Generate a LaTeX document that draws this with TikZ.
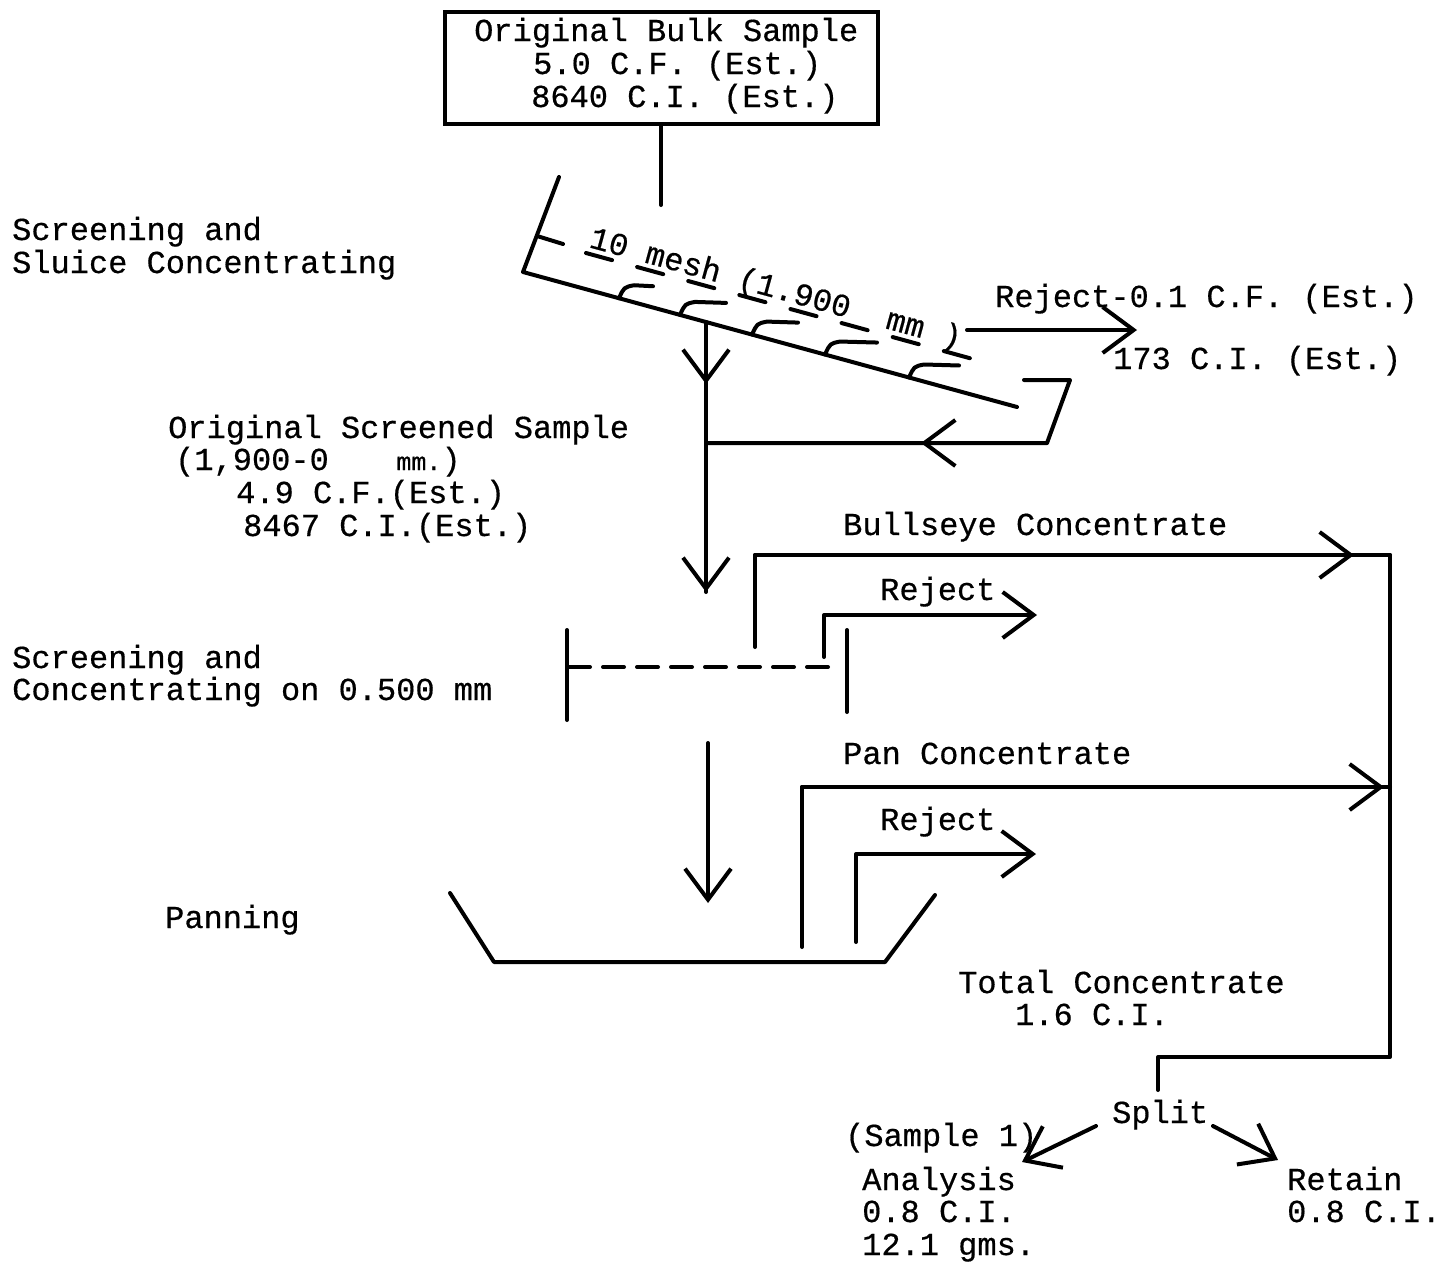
\documentclass[tikz,border=0pt]{standalone}
\usepackage{fontspec}
\setmainfont{Liberation Mono}[FakeBold=0.5]
\usetikzlibrary{arrows.meta}
\begin{document}
\begin{tikzpicture}[x=1pt,y=-1pt,
  ln/.style={line width=4pt,line cap=round,line join=round},
  arr/.style={ln,-{Straight Barb[length=31pt,width=46pt]}},
  txt/.style={inner sep=0pt,anchor=base west,font=\fontsize{32}{33}\selectfont}]
\useasboundingbox (0,0) rectangle (1443,1261);
\fill[white] (0,0) rectangle (1443,1261);

% ---- original bulk sample
\node[draw,line width=4pt,minimum width=433pt,minimum height=112pt,inner sep=0pt] (bulk) at (661,68) {};
\node[txt] (bulk1) at (474,41) {Original Bulk Sample};
\node[txt] (bulk2) at (533,74) {5.0 C.F. (Est.)};
\node[txt] (bulk3) at (531,107) {8640 C.I. (Est.)};
\coordinate (top) at (661,205);
\draw[ln] (bulk.south) -- (top);

% ---- first screen (sluice)
\coordinate (s1a) at (559,177);
\coordinate (s1b) at (523,272);
\coordinate (s1c) at (1017,407);
\draw[ln] (s1a) -- (s1b) -- (s1c);
\draw[ln] (537,236) -- (563,244);
\node[txt,rotate=-15.3] (mesh) at (588,247) {10 mesh (1.900\ \ mm )};
\draw[ln,dash pattern=on 27pt off 26pt] (586,253) -- (991,364);
\foreach \h/\w in {619/34,680/46,752/46,825/52,909/50} {
  \pgfmathsetmacro{\v}{272+0.2733*(\h-523)}
  \draw[ln] (\h,\v) .. controls (\h+5,\v-11) .. (\h+15,\v-13) -- (\h+\w,\v-12);
}

\node[txt] (scr1a) at (12,240) {Screening and};
\node[txt] (scr1b) at (12,273) {Sluice Concentrating};

% reject from first screen
\coordinate (rj1s) at (967,330);
\coordinate (rj1e) at (1137,330);
\draw[arr] (rj1s) -- (rj1e);
\node[txt] (rej1a) at (995,307) {Reject-0.1 C.F. (Est.)};
\node[txt] (rej1b) at (1113,369) {173 C.I. (Est.)};

% undersize down
\coordinate (v1) at (706,322);
\coordinate (v1m) at (706,384);
\coordinate (j1) at (706,443);
\coordinate (v1e) at (706,592);
\draw[ln] (v1) -- (v1e);
\draw[arr] (v1) -- (v1m);
\draw[arr] (j1) -- (v1e);

% oversize return
\coordinate (r1) at (1024,380);
\coordinate (r2) at (1070,380);
\coordinate (r3) at (1047,443);
\coordinate (r4) at (921,443);
\draw[ln] (r1) -- (r2) -- (r3) -- (j1);
\draw[arr] (r3) -- (r4);

\node[txt] (oss1) at (168,438) {Original Screened Sample};
\node[txt] (oss2) at (175,470) {(1,900-0\ \ \ \kern10pt{\fontsize{25}{25}\selectfont mm.})};
\node[txt] (oss3) at (236,503) {4.9 C.F.(Est.)};
\node[txt] (oss4) at (243,536) {8467 C.I.(Est.)};

% ---- second screen 0.500 mm
\draw[ln] (567,630) -- (567,720);
\draw[ln] (847,630) -- (847,712);
\draw[ln,dash pattern=on 21pt off 13pt] (569,667) -- (838,667);
\node[txt] (scr2a) at (12,668) {Screening and};
\node[txt] (scr2b) at (12,700) {Concentrating on 0.500 mm};

% bullseye concentrate
\coordinate (b0) at (755,647);
\coordinate (b1) at (755,555);
\coordinate (b2) at (1390,555);
\coordinate (bt) at (1354,555);
\draw[ln] (b0) -- (b1) -- (b2);
\draw[arr] (b1) -- (bt);
\node[txt] (bull) at (843,535) {Bullseye Concentrate};

% reject 2
\coordinate (c0) at (824,657);
\coordinate (c1) at (824,615);
\coordinate (c2) at (1037,615);
\draw[arr] (c0) -- (c1) -- (c2);
\node[txt] (rej2) at (880,600) {Reject};

% ---- panning
\coordinate (d0) at (708,743);
\coordinate (d1) at (708,903);
\draw[arr] (d0) -- (d1);
\draw[ln] (450,893) -- (494,962) -- (885,962) -- (935,895);
\node[txt] (pan) at (165,928) {Panning};

% pan concentrate
\coordinate (p0) at (802,947);
\coordinate (p1) at (802,787);
\coordinate (p2) at (1390,787);
\coordinate (pt) at (1384,787);
\draw[ln] (p0) -- (p1) -- (p2);
\draw[arr] (p1) -- (pt);
\node[txt] (panc) at (843,764) {Pan Concentrate};

% reject 3
\coordinate (q0) at (856,942);
\coordinate (q1) at (856,854);
\coordinate (q2) at (1036,854);
\draw[arr] (q0) -- (q1) -- (q2);
\node[txt] (rej3) at (880,830) {Reject};

% ---- total concentrate
\coordinate (t0) at (1390,1057);
\coordinate (t1) at (1158,1057);
\coordinate (t2) at (1158,1090);
\draw[ln] (b2) -- (t0) -- (t1) -- (t2);
\node[txt] (tot1) at (958,993) {Total Concentrate};
\node[txt] (tot2) at (1015,1025) {1.6 C.I.};

% ---- split
\node[txt] (split) at (1112,1123) {Split};
\coordinate (sl0) at (1096,1126);
\coordinate (sl1) at (1022,1162);
\coordinate (sr0) at (1213,1126);
\coordinate (sr1) at (1278,1160);
\draw[arr] (sl0) -- (sl1);
\draw[arr] (sr0) -- (sr1);
\node[txt] (samp) at (845,1146) {(Sample 1)};
\node[txt] (an1) at (862,1190) {Analysis};
\node[txt] (an2) at (862,1222) {0.8 C.I.};
\node[txt] (an3) at (862,1255) {12.1 gms.};
\node[txt] (ret1) at (1287,1190) {Retain};
\node[txt] (ret2) at (1287,1222) {0.8 C.I.};
\end{tikzpicture}
\end{document}
